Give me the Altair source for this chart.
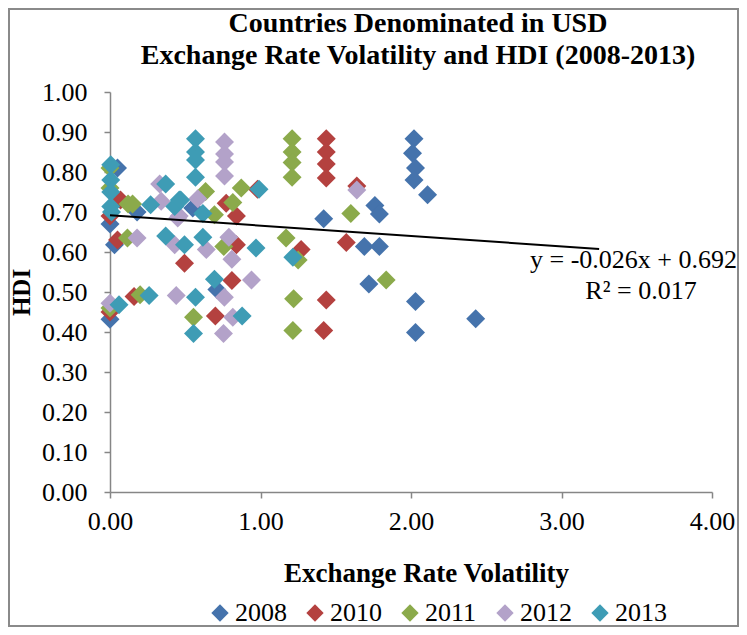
import altair as alt
import pandas as pd

years = ["2008", "2010", "2011", "2012", "2013"]
colors = ["#4573AC", "#B4413F", "#8BAA4B", "#B3A2C9", "#3E9CB5"]
title_lines = ["Countries Denominated in USD", "Exchange Rate Volatility and HDI (2008-2013)"]
y_ticks = [0.0, 0.1, 0.2, 0.3, 0.4, 0.5, 0.6, 0.7, 0.8, 0.9, 1.0]
x_ticks = [0, 1, 2, 3, 4]

x2008 = [2.02, 2.01, 2.03, 2.02, 2.11, 1.76, 1.79, 1.42, 1.69, 1.79, 1.72, 2.03, 2.03, 2.43, 0.71, 0.55, 0.00, 0.03, 0.00, 0.05, 0.18]
y2008 = [0.883, 0.847, 0.810, 0.780, 0.743, 0.716, 0.695, 0.683, 0.614, 0.614, 0.520, 0.476, 0.399, 0.433, 0.506, 0.710, 0.670, 0.618, 0.432, 0.810, 0.700]

x2010 = [1.437, 1.437, 1.437, 1.437, 1.64, 1.57, 1.27, 1.437, 1.42, 0.98, 0.772, 0.84, 0.84, 0.81, 0.70, 0.495, 0.00, 0.07, 0.05, 0.00, 0.16]
y2010 = [0.883, 0.850, 0.820, 0.785, 0.765, 0.624, 0.606, 0.480, 0.404, 0.757, 0.722, 0.690, 0.618, 0.529, 0.440, 0.572, 0.690, 0.730, 0.630, 0.450, 0.489]

x2011 = [1.21, 1.21, 1.21, 1.21, 1.60, 1.17, 1.25, 1.835, 1.22, 1.215, 0.635, 0.694, 0.872, 0.816, 0.756, 0.555, 0.12, 0.15, 0.116, 0.00, 0.20, 0.00, 0.00]
y2011 = [0.883, 0.850, 0.824, 0.787, 0.696, 0.635, 0.580, 0.530, 0.483, 0.404, 0.751, 0.693, 0.760, 0.724, 0.614, 0.437, 0.720, 0.720, 0.635, 0.460, 0.493, 0.810, 0.760]

x2012 = [0.761, 0.761, 0.761, 0.761, 1.64, 0.583, 0.79, 0.64, 0.81, 0.94, 0.76, 0.816, 0.754, 0.33, 0.34, 0.45, 0.18, 0.43, 0.44, 0.00, 0.46]
y2012 = [0.875, 0.845, 0.825, 0.790, 0.755, 0.733, 0.637, 0.606, 0.582, 0.530, 0.487, 0.437, 0.396, 0.770, 0.727, 0.685, 0.635, 0.618, 0.491, 0.472, 0.690]

x2013 = [0.568, 0.568, 0.568, 0.568, 0.617, 0.46, 0.99, 0.617, 0.97, 0.495, 0.694, 0.568, 0.878, 0.555, 1.215, 0.005, 0.005, 0.005, 0.005, 0.27, 0.37, 0.43, 0.47, 0.37, 0.06, 0.26, 0.01]
y2013 = [0.883, 0.850, 0.830, 0.787, 0.696, 0.730, 0.757, 0.637, 0.610, 0.618, 0.532, 0.487, 0.440, 0.396, 0.587, 0.818, 0.780, 0.750, 0.714, 0.718, 0.770, 0.714, 0.730, 0.640, 0.468, 0.491, 0.700]

slope = -0.026
intercept = 0.692
trend_x = [0.0, 3.25]

series = {"2008": (x2008, y2008), "2010": (x2010, y2010), "2011": (x2011, y2011),
          "2012": (x2012, y2012), "2013": (x2013, y2013)}
rows = []
order = 0
for yr in years:
    xs, ys = series[yr]
    for a, b in zip(xs, ys):
        rows.append({"vol": a, "hdi": b, "year": yr, "o": order})
        order += 1
df = pd.DataFrame(rows)
trend = pd.DataFrame({"vol": trend_x, "hdi": [intercept + slope * v for v in trend_x]})

FONT = "Liberation Serif"
xscale = alt.Scale(domain=[0, 4], nice=False, zero=False)
yscale = alt.Scale(domain=[0, 1], nice=False)
xaxis = alt.Axis(title="Exchange Rate Volatility", values=x_ticks, format=".2f", tickCount=5,
                 titlePadding=26, labelPadding=10, labelFlush=False, labelOverlap=False,
                 titleX=316, titleAlign="center")
yaxis = alt.Axis(title="HDI", values=y_ticks, format=".2f", tickCount=11,
                 titlePadding=7, labelPadding=17, labelFlush=False, labelOverlap=False)
X = alt.X("vol:Q", scale=xscale, axis=xaxis)
Y = alt.Y("hdi:Q", scale=yscale, axis=yaxis)

points = alt.Chart(df).mark_point(shape="diamond", filled=True, opacity=1, size=360).encode(
    x=X, y=Y,
    color=alt.Color("year:N", scale=alt.Scale(domain=years, range=colors),
                    legend=alt.Legend(title=None, orient="none", direction="horizontal",
                                      legendX=97, legendY=508, symbolType="diamond",
                                      symbolSize=300, symbolOpacity=1,
                                      labelFont=FONT, labelFontSize=26, labelColor="black",
                                      columnPadding=15, labelOffset=2)),
    order="o:Q",
)

line = alt.Chart(trend).mark_line(color="black", strokeWidth=2).encode(
    x=X,
    y=alt.Y("hdi:Q", scale=yscale, axis=None),
)

eq_text = alt.Chart(pd.DataFrame({"t": ["y = -0.026x + 0.692"]})).mark_text(
    font=FONT, fontSize=26, align="right", baseline="middle", color="black"
).encode(text="t:N", x=alt.value(627), y=alt.value(168))

r2_text = alt.Chart(pd.DataFrame({"t": ["R² = 0.017"]})).mark_text(
    font=FONT, fontSize=26, align="center", baseline="middle", color="black"
).encode(text="t:N", x=alt.value(531), y=alt.value(199))

title_df = pd.DataFrame({"t": title_lines, "dy": [-68, -36]})
title_text = alt.Chart(title_df).mark_text(
    font=FONT, fontSize=28, fontWeight="bold", align="center", baseline="middle", color="black"
).encode(text="t:N", x=alt.value(308), y=alt.Y("dy:Q", scale=None, axis=None))

border = alt.Chart(pd.DataFrame({"a": [0]})).mark_rect(
    fill=None, stroke="#8a8a8a", strokeWidth=2
).encode(x=alt.value(-101), x2=alt.value(628), y=alt.value(-83), y2=alt.value(534))

chart = alt.layer(points, line, eq_text, r2_text, title_text, border).properties(
    width=602, height=400,
    padding={"left": 102, "top": 84, "right": 27, "bottom": 135},
    autosize=alt.AutoSizeParams(type="none"),
).resolve_scale(y="independent").configure_view(stroke=None).configure_axis(
    grid=False, domainColor="#868686", tickColor="#868686", domainWidth=1.5, tickWidth=1.5,
    tickSize=6, labelFont=FONT, labelFontSize=26, labelColor="black",
    titleFont=FONT, titleFontSize=27, titleFontWeight="bold", titleColor="black",
).configure_axisY(titleFontSize=25)

chart.save("out.html", embed_options={"renderer": "svg", "actions": False})
